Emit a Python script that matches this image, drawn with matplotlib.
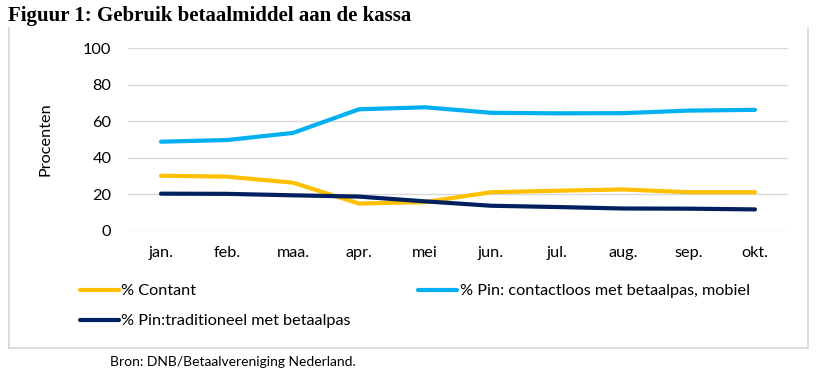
import matplotlib
matplotlib.use("Agg")
import matplotlib.pyplot as plt
from matplotlib.lines import Line2D

months = ["jan.", "feb.", "maa.", "apr.", "mei", "jun.", "jul.", "aug.", "sep.", "okt."]
contant = [30.2, 29.7, 26.4, 15.0, 15.8, 21.2, 22.0, 22.7, 21.2, 21.2]
contactloos = [48.8, 49.7, 53.6, 66.5, 67.6, 64.6, 64.3, 64.4, 65.8, 66.2]
traditioneel = [20.4, 20.3, 19.5, 18.8, 16.2, 13.8, 13.1, 12.3, 12.2, 11.8]
yticks = [0, 20, 40, 60, 80, 100]

W, H = 828, 385
fig = plt.figure(figsize=(W / 100, H / 100), dpi=100)
fig.patch.set_facecolor("white")
font = "Lato"
fs = 11.7

ax = fig.add_axes([128 / W, 1 - 231 / H, (788 - 128) / W, (231 - 48) / H])
x = list(range(len(months)))
lw = 3.0
l1, = ax.plot(x, contant, color="#FFC000", lw=lw, solid_capstyle="round", solid_joinstyle="round", label="% Contant")
l2, = ax.plot(x, contactloos, color="#00B0F0", lw=lw, solid_capstyle="round", solid_joinstyle="round",
              label="% Pin: contactloos met betaalpas, mobiel")
l3, = ax.plot(x, traditioneel, color="#002060", lw=lw, solid_capstyle="round", solid_joinstyle="round",
              label="% Pin:traditioneel met betaalpas")

ax.set_xlim(-0.5, len(months) - 0.5)
ax.set_ylim(0, 100)
ax.set_yticks(yticks)
ax.set_xticks(x)
ax.set_xticklabels(months, fontfamily=font, fontsize=fs, color="#000000")
ax.set_yticklabels([str(v) for v in yticks], fontfamily=font, fontsize=fs, color="#000000")
ax.tick_params(axis="both", length=0)
ax.tick_params(axis="x", pad=11)
ax.tick_params(axis="y", pad=12)
for s in ax.spines.values():
    s.set_visible(False)
ax.grid(axis="y", color="#d9d9d9", lw=1.0)
ax.set_axisbelow(True)
ax.set_ylabel("Procenten", fontfamily=font, fontsize=fs, labelpad=22)

leg = fig.legend(handles=[l1, l3, l2], loc="upper left", bbox_to_anchor=(80 / W, 1 - 284 / H),
                 ncol=2, frameon=False, prop={"family": font, "size": fs},
                 handlelength=2.4, handletextpad=0.15, columnspacing=4.15, labelspacing=0.95,
                 borderaxespad=0, borderpad=0)

fig.text(8 / W, 1 - 16 / H, "Figuur 1: Gebruik betaalmiddel aan de kassa", fontfamily="Liberation Serif",
         fontweight="bold", fontsize=15, va="center", ha="left")
fig.text(110 / W, 1 - 362 / H, "Bron: DNB/Betaalvereniging Nederland.", fontfamily=font,
         fontsize=10, va="center", ha="left")

fc = "#d9d9d9"
for xs, ys in [((9, 9), (28, 348)), ((808, 808), (28, 348)), ((9, 808), (348, 348))]:
    fig.add_artist(Line2D([v / W for v in xs], [1 - v / H for v in ys], transform=fig.transFigure,
                          color=fc, lw=1.3))

fig.savefig("out.png", dpi=100)
